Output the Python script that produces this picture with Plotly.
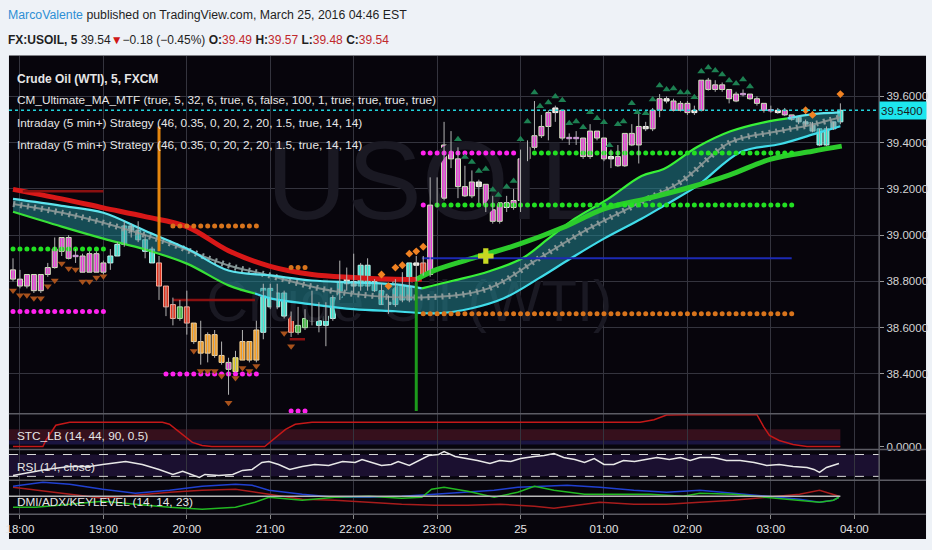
import plotly.graph_objects as go

W, H = 932, 550
FONT = "Liberation Sans, Arial, sans-serif"
GRID = "#34343e"
BG = "#07050c"

# ---------------- data ----------------
# bar times: minutes after 18:00 (5-minute bars, 17:55 .. 03:50)
bar_time = list(range(-5, 595, 5))

bar_open = [38.81, 38.78, 38.78, 38.76, 38.76, 38.83, 38.86, 38.93, 38.90, 38.91,
            38.84, 38.84, 38.84, 38.84, 38.88, 38.91, 38.96, 39.02, 38.98, 38.93,
            38.88, 38.88, 38.78, 38.70, 38.64, 38.69, 38.62, 38.54, 38.57, 38.57,
            38.48, 38.42, 38.41, 38.54, 38.54, 38.59, 38.58, 38.69, 38.69, 38.65,
            38.65, 38.58, 38.60, 38.63, 38.61, 38.61, 38.64, 38.73, 38.79, 38.78,
            38.78, 38.78, 38.76, 38.70, 38.70, 38.70, 38.72, 38.72, 38.87, 38.88,
            38.83, 39.13, 39.16, 39.33, 39.21, 39.17, 39.17, 39.21, 39.11, 39.06,
            39.06, 39.12, 39.12, 39.15, 39.33, 39.38, 39.43, 39.47, 39.53, 39.42,
            39.42, 39.42, 39.34, 39.34, 39.42, 39.33, 39.33, 39.30, 39.30, 39.39,
            39.39, 39.46, 39.46, 39.54, 39.58, 39.54, 39.54, 39.53, 39.53, 39.54,
            39.63, 39.63, 39.63, 39.59, 39.58, 39.61, 39.59, 39.57, 39.54, 39.54,
            39.53, 39.52, 39.50, 39.49, 39.48, 39.45, 39.39, 39.39, 39.46, 39.49]
bar_close = [38.85, 38.81, 38.83, 38.83, 38.83, 38.86, 38.94, 38.99, 38.99, 38.91,
             38.91, 38.92, 38.92, 38.88, 38.91, 38.96, 39.04, 39.04, 39.02, 38.98,
             38.94, 38.78, 38.69, 38.64, 38.69, 38.62, 38.54, 38.49, 38.49, 38.48,
             38.45, 38.45, 38.47, 38.46, 38.46, 38.46, 38.77, 38.77, 38.75, 38.75,
             38.58, 38.61, 38.64, 38.64, 38.63, 38.65, 38.73, 38.80, 38.82, 38.80,
             38.87, 38.87, 38.80, 38.76, 38.71, 38.81, 38.81, 38.88, 38.88, 38.83,
             39.13, 39.16, 39.39, 39.39, 39.33, 39.21, 39.23, 39.23, 39.22, 39.11,
             39.14, 39.14, 39.15, 39.33, 39.38, 39.43, 39.47, 39.53, 39.55, 39.54,
             39.42, 39.42, 39.42, 39.45, 39.45, 39.42, 39.34, 39.34, 39.44, 39.44,
             39.47, 39.47, 39.54, 39.59, 39.59, 39.58, 39.57, 39.57, 39.54, 39.67,
             39.67, 39.65, 39.65, 39.63, 39.61, 39.61, 39.61, 39.59, 39.57, 39.54,
             39.54, 39.54, 39.52, 39.51, 39.49, 39.48, 39.46, 39.46, 39.49, 39.54]
bar_high = [38.90, 38.85, 38.83, 38.83, 38.83, 38.88, 38.99, 38.99, 39.00, 38.94,
            38.92, 38.93, 38.93, 38.89, 38.94, 38.97, 39.06, 39.05, 39.06, 39.00,
            38.95, 38.91, 38.78, 38.73, 38.72, 38.76, 38.62, 38.63, 38.58, 38.59,
            38.54, 38.47, 38.50, 38.59, 38.54, 38.63, 38.79, 38.79, 38.79, 38.76,
            38.67, 38.69, 38.68, 38.76, 38.71, 38.71, 38.74, 38.89, 38.86, 38.92,
            38.88, 38.90, 38.81, 38.79, 38.74, 38.81, 38.84, 38.88, 38.91, 38.91,
            39.25, 39.25, 39.49, 39.45, 39.38, 39.30, 39.28, 39.24, 39.22, 39.17,
            39.14, 39.17, 39.20, 39.37, 39.41, 39.58, 39.52, 39.54, 39.56, 39.54,
            39.44, 39.45, 39.42, 39.48, 39.45, 39.42, 39.37, 39.39, 39.44, 39.48,
            39.53, 39.49, 39.55, 39.61, 39.60, 39.59, 39.58, 39.58, 39.56, 39.67,
            39.68, 39.67, 39.66, 39.63, 39.62, 39.63, 39.61, 39.60, 39.57, 39.56,
            39.55, 39.55, 39.52, 39.51, 39.50, 39.49, 39.46, 39.47, 39.49, 39.57]
bar_low = [38.80, 38.77, 38.77, 38.75, 38.75, 38.82, 38.855, 38.91, 38.895, 38.88,
           38.84, 38.84, 38.84, 38.83, 38.85, 38.91, 38.95, 38.99, 38.97, 38.90,
           38.88, 38.72, 38.65, 38.61, 38.63, 38.57, 38.53, 38.44, 38.45, 38.47,
           38.44, 38.31, 38.41, 38.46, 38.45, 38.45, 38.55, 38.68, 38.68, 38.64,
           38.56, 38.57, 38.59, 38.61, 38.58, 38.52, 38.63, 38.72, 38.76, 38.75,
           38.76, 38.76, 38.755, 38.70, 38.66, 38.69, 38.71, 38.71, 38.78, 38.825,
           38.82, 39.12, 39.15, 39.29, 39.16, 39.165, 39.16, 39.14, 39.10, 39.05,
           39.05, 39.10, 39.11, 39.10, 39.32, 39.37, 39.42, 39.41, 39.49, 39.41,
           39.39, 39.39, 39.33, 39.33, 39.41, 39.32, 39.29, 39.295, 39.295, 39.385,
           39.31, 39.45, 39.45, 39.51, 39.57, 39.535, 39.535, 39.52, 39.52, 39.535,
           39.625, 39.62, 39.62, 39.57, 39.575, 39.60, 39.585, 39.56, 39.53, 39.53,
           39.525, 39.515, 39.495, 39.48, 39.47, 39.445, 39.385, 39.385, 39.455, 39.48]
# colour code of every bar: P pink, C cyan, R red, O orange, Y yellow, G green, W cream, U purple doji
bar_color = list("PPPPPPPPPUPPPPCCCWCCCRRRGROOOOOPYOOOCCCCRGGWCCCCWWCCCCWCCCWR"
                 "PPPPPPPWPPPWPPPPPPWPUUPPPPWPPPPWPPWPPPWPPPPPPUPPPUWPPWWWCCWC")

# moving-average ribbon (minutes after 18:00, price)
ma_red_t = [-5, 30, 60, 90, 120, 150, 180, 210, 240, 270, 289]
ma_red_p = [39.198, 39.157, 39.118, 39.080, 39.037, 38.933, 38.865, 38.830, 38.817, 38.809, 38.809]
ma_grn_t = [285, 300, 330, 360, 390, 420, 450, 480, 510, 540, 570, 591]
ma_grn_p = [38.809, 38.852, 38.908, 38.963, 39.032, 39.114, 39.157, 39.204, 39.260, 39.329, 39.363, 39.385]
band_up_t = [-5, 30, 60, 90, 120, 150, 180, 210, 240, 270, 289, 312, 337, 361, 380, 399, 423, 447,
             463, 487, 511, 535, 552, 570, 590]
band_up_p = [39.157, 39.127, 39.097, 39.019, 38.942, 38.847, 38.826, 38.804, 38.796, 38.787, 38.770,
             38.804, 38.843, 38.899, 38.985, 39.071, 39.157, 39.256, 39.286, 39.381, 39.449, 39.488,
             39.505, 39.523, 39.531]
band_lo_t = [-5, 30, 60, 90, 120, 150, 169, 180, 210, 240, 270, 300, 325, 348, 373, 396, 420, 447,
             463, 487, 518, 547, 571, 590]
band_lo_p = [39.101, 39.037, 38.985, 38.938, 38.877, 38.783, 38.748, 38.727, 38.701, 38.680, 38.671,
             38.662, 38.684, 38.727, 38.813, 38.899, 38.985, 39.071, 39.127, 39.213, 39.359, 39.394,
             39.437, 39.471]
band_mid_t = [-5, 40, 98, 150, 174, 227, 289, 337, 373, 409, 447, 475, 511, 545, 571, 590]
band_mid_p = [39.135, 39.084, 38.985, 38.869, 38.834, 38.757, 38.731, 38.770, 38.899, 39.028, 39.144,
              39.230, 39.402, 39.449, 39.480, 39.510]

# dotted stop / target levels
lvl_start = [-5, -5, 110, 105, 195, 195, 290, 290, 370, 300, 290]
lvl_end = [60, 60, 170, 170, 205, 205, 355, 290, 555, 555, 555]
lvl_price = [38.94, 38.67, 39.04, 38.40, 38.86, 38.24, 39.355, 39.13, 39.355, 39.13, 38.66]
lvl_kind = ["g", "m", "o", "m", "o", "m", "m", "m", "g", "g", "o"]
# dark-red level segments and blue level
dr_start = [2, 110, 194]
dr_end = [60, 169, 205]
dr_price = [39.19, 38.72, 38.55]
blue_start, blue_end, blue_price = 289, 555, 38.90

# strategy markers
diam_t = [260, 265, 270, 275, 280, 285, 290, 565, 570, 590]
diam_p = [38.83, 38.78, 38.86, 38.87, 38.92, 38.93, 38.95, 39.54, 39.52, 39.61]
up_t = [315, 320, 325, 330, 335, 340, 344, 350, 355, 360, 365, 370, 374, 380, 385, 390, 395, 400,
        405, 410, 415, 420, 424, 430, 434, 440, 444, 450, 455, 460, 465, 470, 475, 480, 485, 490,
        495, 500, 505, 510, 515, 520, 525]
up_p = [39.415, 39.338, 39.316, 39.277, 39.286, 39.196, 39.174, 39.209, 39.234, 39.415, 39.492,
        39.617, 39.557, 39.574, 39.600, 39.583, 39.484, 39.492, 39.467, 39.531, 39.505, 39.488,
        39.389, 39.480, 39.492, 39.570, 39.531, 39.527, 39.587, 39.647, 39.630, 39.634, 39.617,
        39.617, 39.596, 39.708, 39.725, 39.712, 39.695, 39.669, 39.656, 39.673, 39.643]
dn_t = [-5, 0, 5, 10, 15, 20, 25, 30, 35, 40, 45, 50, 55, 60, 125, 130, 135, 140, 145, 150, 155,
        160, 165, 170, 190, 195]
dn_p = [38.761, 38.740, 38.740, 38.727, 38.727, 38.779, 38.804, 38.877, 38.856, 38.852, 38.800,
        38.800, 38.817, 38.822, 38.499, 38.413, 38.413, 38.413, 38.391, 38.275, 38.383, 38.426,
        38.413, 38.434, 38.576, 38.520]
sig_orange_t, sig_orange_lo, sig_orange_hi = 100, 38.93, 39.47
sig_green_t, sig_green_lo, sig_green_hi = 285, 38.24, 38.80
plus_t, plus_p = 335, 38.91
last_price = 39.54

# STC
stc_t = [-5, 16.5, 18.6, 21.5, 25.8, 35.8, 102.5, 107.5, 116.8, 124, 131, 138, 176, 181, 186, 191,
         198, 210, 446, 456, 465, 477, 530, 535, 539, 546, 556, 566, 590]
stc_v = [0, 0, 19, 38, 67, 76, 76, 70, 38, 13, 3, 0, 0, 19, 38, 54, 70, 76, 76, 84, 99, 100, 100,
         61, 35, 19, 6, 0, 0]
# RSI
rsi_t = [-5, 7, 18.6, 35.8, 50, 59.5, 76, 88, 100, 110, 117, 129, 133, 143, 153, 160, 167, 174,
         179, 186, 194, 203, 212, 222, 232, 241, 246, 253, 260, 267, 272, 280, 287, 294, 301, 305,
         313, 322, 329, 338, 345, 353, 360, 370, 377, 384, 391, 399, 406, 413, 420, 427, 434, 442,
         449, 458, 467, 475, 482, 489, 499, 508, 518, 528, 537, 546, 556, 566, 571, 575, 580, 585, 589]
rsi_v = [31.8, 37.3, 42.7, 48.2, 48.2, 51.8, 57.3, 51.8, 42.7, 33.6, 39.1, 28.2, 33.6, 31.8, 33.6,
         40.9, 42.7, 55.5, 57.3, 51.8, 42.7, 48.2, 51.8, 50.0, 57.3, 55.5, 60.9, 55.5, 50.0, 51.8,
         57.3, 50.0, 59.1, 68.2, 70.0, 75.5, 66.4, 62.7, 59.1, 53.6, 59.1, 57.3, 62.7, 66.4, 68.2,
         71.8, 64.5, 60.9, 55.5, 62.7, 51.8, 51.8, 59.1, 57.3, 60.9, 64.5, 60.9, 64.5, 59.1, 64.5,
         64.5, 59.1, 59.1, 55.5, 50.0, 51.8, 48.2, 46.4, 42.7, 37.3, 46.4, 50.0, 53.6]
# DMI / ADX
dmi_blue_t = [-5, 16.5, 35.8, 59.5, 83, 107.5, 131, 155, 167, 179, 203, 226.5, 251, 274.5, 298, 322,
              341, 358, 393.5, 417, 441.5, 465, 489, 513, 537, 560.6, 575, 585, 589]
dmi_blue_v = [35.8, 40.9, 38.3, 32.0, 26.8, 30.7, 35.8, 38.3, 37.1, 30.7, 25.6, 21.7, 21.7, 23.0,
              25.6, 28.1, 30.7, 34.5, 37.1, 34.5, 30.7, 28.1, 30.7, 26.8, 23.0, 19.2, 15.3, 17.9, 21.7]
dmi_red_t = [-5, 11.5, 35.8, 59.5, 83, 107.5, 131, 155, 179, 203, 226.5, 251, 274.5, 298, 322,
             345.5, 370, 384, 417, 441.5, 465, 489, 513, 537, 560.6, 575, 585, 589]
dmi_red_v = [34.5, 30.7, 25.6, 20.4, 24.3, 28.1, 30.7, 32.0, 25.6, 19.2, 17.9, 15.3, 12.8, 11.5,
             11.5, 12.8, 10.2, 7.7, 15.3, 12.8, 12.8, 15.3, 17.9, 21.7, 25.6, 30.7, 25.6, 23.0]
dmi_grn_t = [-5, 11.5, 35.8, 59.5, 83, 107.5, 131, 155, 169, 179, 203, 226.5, 251, 274.5, 289, 296,
             305, 322, 341, 358, 370, 384, 406, 429, 453, 477, 489, 513, 537, 560.6, 575, 585, 589]
dmi_grn_v = [8.9, 8.9, 12.8, 16.6, 12.8, 8.9, 6.4, 8.9, 15.3, 21.7, 17.9, 21.7, 23.0, 20.4, 21.7,
             32.0, 34.5, 29.4, 21.7, 28.1, 35.8, 30.7, 25.6, 25.6, 25.6, 23.0, 26.8, 25.6, 21.7,
             17.9, 15.3, 17.9, 21.7]
key_level = 23

time_ticks = [0, 60, 120, 180, 240, 300, 360, 420, 480, 540, 600]
time_labels = ["18:00", "19:00", "20:00", "21:00", "22:00", "23:00", "25", "01:00", "02:00",
               "03:00", "04:00"]
price_ticks = [38.4, 38.6, 38.8, 39.0, 39.2, 39.4, 39.6]

# ---------------- styles ----------------
CANDLE = {"P": ("#e63cd6", "#d6eac0"), "C": ("#3ce6d2", "#c0f6ee"), "R": ("#e0321e", "#f0a898"),
          "O": ("#f39a1f", "#f6d59a"), "Y": ("#d6c62a", "#f0e8a0"), "G": ("#3cb43c", "#a8e6a8"),
          "W": ("#e6e2cc", "#ffffff"), "U": ("#c060d0", "#d8a0e0")}
LVL = {"g": "#22e022", "m": "#ff22ee", "o": "#d8741c"}
XR = [-7.9, 617.9]


def px(x):
    return x / W


def py(y):
    return 1 - y / H


fig = go.Figure()

# watermark
fig.add_trace(go.Scatter(x=[298], y=[39.19], mode="text", text=["USOIL"],
                         textfont=dict(size=112, color="#1a1923", family=FONT),
                         hoverinfo="skip"))
fig.add_trace(go.Scatter(x=[280], y=[38.69], mode="text", text=["Crude Oil (WTI)"],
                         textfont=dict(size=58, color="#1a1923", family=FONT), hoverinfo="skip"))

# ribbon fill
fig.add_trace(go.Scatter(x=band_lo_t, y=band_lo_p, mode="lines", line=dict(width=0, shape="spline"),
                         hoverinfo="skip"))
fig.add_trace(go.Scatter(x=band_up_t, y=band_up_p, mode="lines", line=dict(width=0, shape="spline"),
                         fill="tonexty", fillcolor="rgba(35,135,145,0.55)", hoverinfo="skip"))
# centre line (cross chain)
fig.add_trace(go.Scatter(x=band_mid_t, y=band_mid_p, mode="lines",
                         line=dict(color="#7f8f8f", width=2, shape="spline"), hoverinfo="skip"))
fig.add_trace(go.Scatter(x=band_mid_t, y=band_mid_p, mode="lines",
                         line=dict(color="#8a9a9a", width=6, dash="2px,5px", shape="spline"),
                         hoverinfo="skip"))


def seg(xs, ys, a, b, color, width):
    fig.add_trace(go.Scatter(x=xs[a:b], y=ys[a:b], mode="lines",
                             line=dict(color=color, width=width, shape="spline"), hoverinfo="skip"))


seg(band_up_t, band_up_p, 0, 11, "#5ee4ee", 2.2)
seg(band_up_t, band_up_p, 10, 23, "#38f038", 2.2)
seg(band_up_t, band_up_p, 22, 25, "#5ee4ee", 2.2)
seg(band_lo_t, band_lo_p, 0, 7, "#38e038", 2.2)
seg(band_lo_t, band_lo_p, 6, 24, "#40dcea", 2.2)
seg(ma_red_t, ma_red_p, 0, len(ma_red_t), "#d81818", 5)
seg(ma_grn_t, ma_grn_p, 0, len(ma_grn_t), "#2ccc2c", 5)

# level dots
for s, e, p, k in zip(lvl_start, lvl_end, lvl_price, lvl_kind):
    ts = [t for t in bar_time if s <= t <= e]
    fig.add_trace(go.Scatter(x=ts, y=[p] * len(ts), mode="markers",
                             marker=dict(color=LVL[k], size=5), hoverinfo="skip"))
for s, e, p in zip(dr_start, dr_end, dr_price):
    fig.add_trace(go.Scatter(x=[s, e], y=[p, p], mode="lines", line=dict(color="#8a1010", width=2.5),
                             hoverinfo="skip"))
fig.add_trace(go.Scatter(x=[blue_start, blue_end], y=[blue_price, blue_price], mode="lines",
                         line=dict(color="#1c2ab4", width=2), hoverinfo="skip"))

# wicks
wx, wy = [], []
for t, hi, lo in zip(bar_time, bar_high, bar_low):
    wx += [t, t, None]
    wy += [hi, lo, None]
fig.add_trace(go.Scatter(x=wx, y=wy, mode="lines", line=dict(color="#b4b4b4", width=1),
                         hoverinfo="skip"))
# bodies
base, height, fills, edges = [], [], [], []
for o, c, k in zip(bar_open, bar_close, bar_color):
    lo, hi = min(o, c), max(o, c)
    if hi - lo < 0.006:
        lo, hi = (lo + hi) / 2 - 0.003, (lo + hi) / 2 + 0.003
    base.append(lo)
    height.append(hi - lo)
    fills.append(CANDLE[k][0])
    edges.append(CANDLE[k][1])
fig.add_trace(go.Bar(x=bar_time[:len(base)], y=height, base=base, width=3.6,
                     marker=dict(color=fills, line=dict(color=edges, width=1)), hoverinfo="skip"))

# signals
fig.add_trace(go.Scatter(x=[sig_orange_t, sig_orange_t], y=[sig_orange_lo, sig_orange_hi], mode="lines",
                         line=dict(color="#e4860e", width=3), hoverinfo="skip"))
fig.add_trace(go.Scatter(x=[sig_green_t, sig_green_t], y=[sig_green_lo, sig_green_hi], mode="lines",
                         line=dict(color="#1c9a1c", width=3), hoverinfo="skip"))
fig.add_trace(go.Scatter(x=up_t, y=up_p, mode="markers",
                         marker=dict(symbol="triangle-up", color="#1d8052", size=7), hoverinfo="skip"))
fig.add_trace(go.Scatter(x=dn_t, y=dn_p, mode="markers",
                         marker=dict(symbol="triangle-down", color="#a8521c", size=7), hoverinfo="skip"))
fig.add_trace(go.Scatter(x=diam_t, y=diam_p, mode="markers",
                         marker=dict(symbol="diamond", color="#f08222", size=6), hoverinfo="skip"))
fig.add_trace(go.Scatter(x=[plus_t], y=[plus_p], mode="markers",
                         marker=dict(symbol="cross", color="#c8d822", size=13), hoverinfo="skip"))

# STC
fig.add_trace(go.Scatter(x=stc_t, y=stc_v, xaxis="x", yaxis="y2", mode="lines",
                         line=dict(color="#c41818", width=1.5), hoverinfo="skip"))
# RSI
fig.add_trace(go.Scatter(x=rsi_t, y=rsi_v, xaxis="x", yaxis="y3", mode="lines",
                         line=dict(color="#e8e8e8", width=1.5), hoverinfo="skip"))
# DMI
for ts, vs, col in [(dmi_red_t, dmi_red_v, "#a81c1c"), (dmi_blue_t, dmi_blue_v, "#2040d0"),
                    (dmi_grn_t, dmi_grn_v, "#22b822")]:
    fig.add_trace(go.Scatter(x=ts, y=vs, xaxis="x", yaxis="y4", mode="lines",
                             line=dict(color=col, width=1.5), hoverinfo="skip"))

shapes = [
    dict(type="rect", xref="paper", yref="paper", x0=px(6), x1=px(926), y0=py(542), y1=py(56),
         fillcolor=BG, line=dict(width=0), layer="below"),
    dict(type="rect", xref="x", yref="y2", x0=XR[0], x1=590, y0=19, y1=54, fillcolor="#36101c",
         line=dict(width=0), layer="below"),
    dict(type="rect", xref="x", yref="y2", x0=XR[0], x1=590, y0=6, y1=19, fillcolor="#1a1440",
         line=dict(width=0), layer="below"),
    dict(type="rect", xref="x", yref="y3", x0=XR[0], x1=XR[1], y0=30, y1=70, fillcolor="#1b1030",
         line=dict(width=0), layer="below"),
    dict(type="line", xref="x", yref="y3", x0=XR[0], x1=XR[1], y0=70, y1=70,
         line=dict(color="#d8d8d8", width=1, dash="dash")),
    dict(type="line", xref="x", yref="y3", x0=XR[0], x1=XR[1], y0=30, y1=30,
         line=dict(color="#d8d8d8", width=1, dash="dash")),
    dict(type="line", xref="x", yref="y4", x0=XR[0], x1=590, y0=key_level, y1=key_level,
         line=dict(color="#b8b8b8", width=1.5)),
    dict(type="line", xref="x", yref="y", x0=XR[0], x1=XR[1], y0=last_price, y1=last_price,
         line=dict(color="#22d4dc", width=1.5, dash="dot")),
]
for yy in [416, 452, 483, 517]:
    shapes.append(dict(type="line", xref="paper", yref="paper", x0=px(6), x1=px(926), y0=py(yy),
                       y1=py(yy), line=dict(color="#5c5c64", width=1.5)))
shapes.append(dict(type="line", xref="paper", yref="paper", x0=px(879), x1=px(879), y0=py(517),
                   y1=py(56), line=dict(color="#5c5c64", width=1.5)))

ann = []


def txt(x, y, s, size=11.8, color="#e6e6e6", anchor="left"):
    ann.append(dict(x=px(x), y=py(y), xref="paper", yref="paper", text=s, showarrow=False,
                    xanchor=anchor, yanchor="middle", font=dict(size=size, color=color, family=FONT)))


RED = "#c0282c"
txt(3, 15, "<span style='color:#2d8fd5'>MarcoValente</span> published on TradingView.com, "
           "March 25, 2016 04:46 EST", 12.3, "#1f1f1f")
txt(3, 40, f"<b>FX:USOIL, 5</b> 39.54<span style='color:#d01818'>▼</span>−0.18 (−0.45%) "
           f"<b>O:</b><span style='color:{RED}'>39.49</span> <b>H:</b><span style='color:{RED}'>39.57</span> "
           f"<b>L:</b><span style='color:{RED}'>39.48</span> <b>C:</b><span style='color:{RED}'>39.54</span>",
    12, "#1f1f1f")
txt(12, 79, "<b>Crude Oil (WTI), 5, FXCM</b>", 12)
txt(12, 101, "CM_Ultimate_MA_MTF (true, 5, 32, 6, true, 6, false, 100, 1, true, true, true, true)")
txt(12, 124, "Intraday (5 min+) Strategy (46, 0.35, 0, 20, 2, 20, 1.5, true, 14, 14)")
txt(12, 146, "Intraday (5 min+) Strategy (46, 0.35, 0, 20, 2, 20, 1.5, true, 14, 14)")
txt(12, 438, "STC_LB (14, 44, 90, 0.5)")
txt(12, 470, "RSI (14, close)")
txt(12, 505, "DMI/ADX/KEYLEVEL (14, 14, 23)")
ann.append(dict(x=px(879), y=last_price, xref="paper", yref="y", text="39.5400", showarrow=False,
                xanchor="left", yanchor="middle", bgcolor="#1de6ee", width=44, height=15,
                font=dict(size=11.5, color="#1a1a1a", family=FONT), align="left", borderpad=1))

axis_common = dict(zeroline=False, fixedrange=True)
fig.update_layout(
    width=W, height=H, margin=dict(l=0, r=0, t=0, b=0), paper_bgcolor="#eef2f7", plot_bgcolor=BG,
    showlegend=False, barmode="overlay", font=dict(family=FONT, color="#d8d8d8"),
    xaxis=dict(domain=[px(6), px(879)], range=XR, anchor="y4", tickvals=time_ticks, ticktext=time_labels,
               showgrid=True, gridcolor=GRID, gridwidth=1, ticks="outside", ticklen=4, tickcolor="#888",
               tickfont=dict(size=11.5, color="#e4e4e4", family=FONT), showline=False, **axis_common),
    yaxis=dict(domain=[py(416), py(56)], range=[38.228, 39.776], side="right", anchor="x",
               tickvals=price_ticks, tickformat=".4f", ticks="outside", ticklen=4, tickcolor="#999",
               tickfont=dict(size=11.5, color="#d4d4d4", family=FONT), showgrid=True, gridcolor=GRID,
               **axis_common),
    yaxis2=dict(domain=[py(452), py(416)], range=[-9.6, 103.2], side="right", anchor="x",
                tickvals=[0], ticktext=["0.0000"], ticks="outside", ticklen=4, tickcolor="#999",
                tickfont=dict(size=11.5, color="#d4d4d4", family=FONT), showgrid=False, **axis_common),
    yaxis3=dict(domain=[py(483), py(452)], range=[22.7, 79.1], anchor="x", showticklabels=False,
                showgrid=False, **axis_common),
    yaxis4=dict(domain=[py(517), py(483)], range=[0, 43.4], anchor="x", showticklabels=False,
                showgrid=False, **axis_common),
    shapes=shapes, annotations=ann,
)
fig.write_html("out.html", config={"displayModeBar": False},
               post_script="document.body.style.margin='0';document.body.style.background='#eef2f7';")
